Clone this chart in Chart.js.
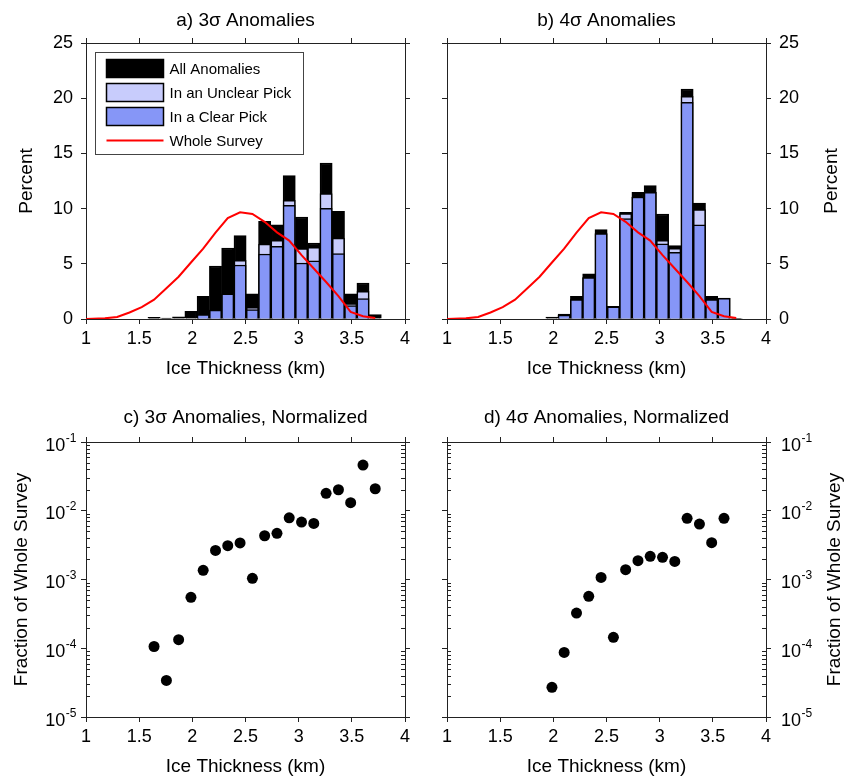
<!DOCTYPE html>
<html><head><meta charset="utf-8">
<script src="https://cdn.jsdelivr.net/npm/chart.js@4.4.1/dist/chart.umd.min.js"></script>
<style>
html,body{margin:0;padding:0;background:#fff;}
#wrap{position:relative;width:844px;height:777px;overflow:hidden;}
canvas{position:absolute;}
</style></head><body>
<div id="wrap">
<canvas id="ca" width="422" height="395" style="left:0;top:0"></canvas>
<canvas id="cb" width="422" height="395" style="left:422px;top:0"></canvas>
<canvas id="cc" width="422" height="382" style="left:0;top:395px"></canvas>
<canvas id="cd" width="422" height="382" style="left:422px;top:395px"></canvas>
</div>
<script>
// ---------------- data ----------------
const binCenters = [1.640, 1.756, 1.871, 1.987, 2.102, 2.218, 2.333, 2.449, 2.565, 2.680, 2.796, 2.911, 3.027, 3.142, 3.258, 3.374, 3.489, 3.605, 3.720];

const all3 = [0.15, 0.08, 0.2, 0.7, 2.05, 4.8, 6.43, 7.55, 2.29, 8.85, 8.54, 12.98, 9.24, 6.88, 14.13, 9.75, 2.29, 3.26, 0.39];
const unclear3 = [null, null, null, null, 0.39, 0.8, 2.29, 5.31, 1.06, 6.79, 7.13, 10.75, 6.37, 6.49, 11.35, 7.34, 1.39, 2.51, null];
const clear3 = [null, null, null, null, 0.39, 0.8, 2.29, 4.89, 0.85, 5.89, 6.58, 10.3, 5.07, 5.28, 10.02, 5.92, 1.21, 1.84, null];

const all4 = [null, null, null, 0.18, 0.45, 2.05, 4.1, 8.1, 1.15, 9.66, 11.47, 12.08, 9.51, 6.64, 20.83, 10.5, 2.05, 1.9, 0.05];
const unclear4 = [null, null, null, null, 0.35, 1.75, 3.75, 7.73, 1.1, 9.54, 11.05, 11.47, 7.13, 6.4, 20.17, 9.9, 1.75, 1.88, null];
const clear4 = [null, null, null, null, 0.35, 1.75, 3.75, 7.73, 1.1, 9.09, 11.05, 11.47, 6.8, 6.04, 19.63, 8.54, 1.75, 1.88, null];

const surveyX = [1.0, 1.062, 1.178, 1.293, 1.409, 1.524, 1.640, 1.756, 1.871, 1.987, 2.102, 2.218, 2.333, 2.449, 2.565, 2.680, 2.796, 2.911, 3.027, 3.142, 3.258, 3.374, 3.489, 3.605, 3.720];
const surveyPct = [0, 0.02, 0.06, 0.18, 0.59, 1.08, 1.75, 2.79, 3.83, 5.12, 6.37, 7.83, 9.15, 9.66, 9.52, 8.8, 7.85, 7.1, 5.78, 4.57, 3.35, 2.07, 0.65, 0.25, 0.1];

const norm3 = [1.06e-4, 3.4e-5, 1.33e-4, 5.5e-4, 1.36e-3, 2.65e-3, 3.1e-3, 3.4e-3, 1.04e-3, 4.33e-3, 4.7e-3, 7.9e-3, 6.85e-3, 6.55e-3, 1.79e-2, 2.02e-2, 1.31e-2, 4.62e-2, 2.09e-2];
const norm4 = [null, null, null, 2.7e-5, 8.7e-5, 3.25e-4, 5.7e-4, 1.07e-3, 1.44e-4, 1.39e-3, 1.88e-3, 2.17e-3, 2.1e-3, 1.83e-3, 7.75e-3, 6.4e-3, 3.43e-3, 7.75e-3, null];

const xTickLabels = ['1', '1.5', '2', '2.5', '3', '3.5', '4'];
const pctTickLabels = ['0', '5', '10', '15', '20', '25'];
const logTickValues = [1e-5, 1e-4, 1e-3, 1e-2, 1e-1];
const logTickExps = ['-5', '-4', '-3', '-2', '-1'];
const logMinorMult = [2, 3, 4, 5, 6, 7, 8, 9];
const legendLabels = ['All Anomalies', 'In an Unclear Pick', 'In a Clear Pick', 'Whole Survey'];
const panelTitles = ['a) 3σ Anomalies', 'b) 4σ Anomalies', 'c) 3σ Anomalies, Normalized', 'd) 4σ Anomalies, Normalized'];
const xTitle = 'Ice Thickness (km)';
const yTitleBars = 'Percent';
const yTitleNorm = 'Fraction of Whole Survey';

// ---------------- styling ----------------
const FONT = '"Liberation Sans", Arial, Helvetica, sans-serif';
const AX = '#222';
const COL_ALL = '#000000', COL_UNC = '#c8ccfc', COL_CLR = '#8696f7', COL_LINE = '#ff0000';
Chart.defaults.font.family = FONT;
Chart.defaults.font.size = 18;
Chart.defaults.color = '#000';
Chart.defaults.animation = false;

const deco = {
  id: 'deco',
  afterDraw(chart, args, o) {
    const ctx = chart.ctx, ca = chart.chartArea;
    ctx.save();
    ctx.fillStyle = '#000';
    ctx.font = '19px ' + FONT;
    ctx.textAlign = 'center';
    ctx.textBaseline = 'alphabetic';
    const cx = (ca.left + ca.right) / 2;
    ctx.fillText(o.title, cx, o.titleY);
    ctx.fillText(o.xTitle, cx, o.xTitleY);
    ctx.save();
    ctx.translate(o.yTitleX, (ca.top + ca.bottom) / 2);
    ctx.rotate(-Math.PI / 2);
    ctx.textBaseline = 'middle';
    ctx.fillText(o.yTitle, 0, 0);
    ctx.restore();

    if (o.logScale) {
      const sc = chart.scales[o.logScale];
      const left = sc.position === 'left';
      ctx.textAlign = 'left';
      ctx.textBaseline = 'alphabetic';
      logTickValues.forEach((v, i) => {
        const y = sc.getPixelForValue(v);
        ctx.font = '18px ' + FONT;
        const w10 = ctx.measureText('10').width;
        ctx.font = '12px ' + FONT;
        const we = ctx.measureText(logTickExps[i]).width;
        const x0 = left ? ca.left - 10 - w10 - we : ca.right + 15;
        ctx.font = '18px ' + FONT;
        ctx.fillText('10', x0, y + 8.5);
        ctx.font = '12px ' + FONT;
        ctx.fillText(logTickExps[i], x0 + w10 + 0.5, y - 0.5);
      });
      ctx.strokeStyle = AX;
      ctx.lineWidth = 1;
      ctx.beginPath();
      for (let d = 0; d < logTickValues.length - 1; d++) {
        logMinorMult.forEach(m => {
          const y = Math.round(sc.getPixelForValue(logTickValues[d] * m)) + 0.5;
          ctx.moveTo(ca.left, y); ctx.lineTo(ca.left + 4, y);
          ctx.moveTo(ca.right, y); ctx.lineTo(ca.right - 4, y);
        });
      }
      ctx.stroke();
    }

    if (o.legend) {
      const bx = Math.round(ca.left + 9) + 0.5, by = Math.round(ca.top + 9) + 0.5, bw = 208, bh = 102;
      ctx.fillStyle = '#fff';
      ctx.fillRect(bx, by, bw, bh);
      ctx.strokeStyle = '#444';
      ctx.lineWidth = 1;
      ctx.strokeRect(bx, by, bw, bh);
      ctx.font = '15px ' + FONT;
      ctx.textAlign = 'left';
      ctx.textBaseline = 'middle';
      chart.data.datasets.forEach((ds, i) => {
        const cy = by + 16 + 24 * i;
        if (ds.type === 'bar') {
          ctx.fillStyle = ds.backgroundColor;
          ctx.fillRect(bx + 11, cy - 9, 57, 18);
          ctx.strokeStyle = '#000';
          ctx.lineWidth = 1.5;
          ctx.strokeRect(bx + 11, cy - 9, 57, 18);
        } else {
          ctx.strokeStyle = ds.borderColor;
          ctx.lineWidth = 2;
          ctx.beginPath();
          ctx.moveTo(bx + 11, cy); ctx.lineTo(bx + 68, cy);
          ctx.stroke();
        }
        ctx.fillStyle = '#000';
        ctx.fillText(ds.label, bx + 74, cy + 1);
      });
    }
    ctx.restore();
  }
};

function frameAxis(extra) {
  return Object.assign({
    offset: false,
    grid: { drawOnChartArea: false, drawTicks: true, tickLength: 5, color: AX, lineWidth: 1, offset: false },
    border: { display: true, color: AX, width: 1 }
  }, extra);
}

function xAxes(bottomH, topH) {
  return {
    x: frameAxis({
      type: 'linear', position: 'bottom', min: 1, max: 4,
      ticks: { stepSize: 0.5, padding: 4, maxRotation: 0, autoSkip: false, callback: (v, i) => xTickLabels[i] },
      afterFit: s => { s.height = bottomH; }
    }),
    x2: frameAxis({
      type: 'linear', axis: 'x', position: 'top', min: 1, max: 4,
      ticks: { stepSize: 0.5, display: false },
      afterFit: s => { s.height = topH; }
    })
  };
}

function pctAxis(pos, w, show) {
  return frameAxis({
    type: 'linear', axis: 'y', position: pos, min: 0, max: 25,
    ticks: { stepSize: 5, padding: 8, display: show, callback: (v, i) => pctTickLabels[i] },
    afterFit: s => { s.width = w; }
  });
}

function logAxis(pos, w) {
  return frameAxis({
    type: 'logarithmic', axis: 'y', position: pos, min: 1e-5, max: 1e-1,
    ticks: { display: false },
    afterBuildTicks: s => { s.ticks = logTickValues.map(v => ({ value: v, major: true })); },
    afterFit: s => { s.width = w; }
  });
}

function barDatasets(all, unc, clr) {
  const common = { type: 'bar', grouped: false, barPercentage: 1, categoryPercentage: 1, borderColor: '#000', borderWidth: 1.5 };
  return [
    Object.assign({ label: legendLabels[0], data: binCenters.map((x, i) => ({ x, y: all[i] })), backgroundColor: COL_ALL, order: 3 }, common),
    Object.assign({ label: legendLabels[1], data: binCenters.map((x, i) => ({ x, y: unc[i] })), backgroundColor: COL_UNC, order: 2 }, common),
    Object.assign({ label: legendLabels[2], data: binCenters.map((x, i) => ({ x, y: clr[i] })), backgroundColor: COL_CLR, order: 1 }, common),
    { type: 'line', label: legendLabels[3], data: surveyX.map((x, i) => ({ x, y: surveyPct[i] })), borderColor: COL_LINE, backgroundColor: COL_LINE, borderWidth: 2, pointRadius: 0, tension: 0, fill: false, order: 0 }
  ];
}

function scatterDataset(vals) {
  return [{ type: 'scatter', label: 'norm', data: binCenters.map((x, i) => ({ x, y: vals[i] })), backgroundColor: '#000', borderWidth: 0, pointRadius: 5.5 }];
}

const baseOpts = (scales, padTop, deco) => ({
  responsive: false, devicePixelRatio: 1, animation: false, events: [],
  layout: { padding: { top: padTop, left: 0, right: 0, bottom: 0 } },
  scales,
  plugins: { legend: { display: false }, tooltip: { enabled: false }, deco }
});

// a) 3 sigma bars
new Chart(document.getElementById('ca'), {
  type: 'bar',
  data: { datasets: barDatasets(all3, unclear3, clear3) },
  options: baseOpts(Object.assign(xAxes(76, 6), { y: pctAxis('left', 86, true), y2: pctAxis('right', 17, false) }), 37,
    { title: panelTitles[0], titleY: 26, xTitle, xTitleY: 374, yTitle: yTitleBars, yTitleX: 27, legend: true }),
  plugins: [deco]
});

// b) 4 sigma bars
new Chart(document.getElementById('cb'), {
  type: 'bar',
  data: { datasets: barDatasets(all4, unclear4, clear4) },
  options: baseOpts(Object.assign(xAxes(76, 6), { y: pctAxis('left', 25, false), y2: pctAxis('right', 78, true) }), 37,
    { title: panelTitles[1], titleY: 26, xTitle, xTitleY: 374, yTitle: yTitleBars, yTitleX: 410, legend: false }),
  plugins: [deco]
});

// c) 3 sigma normalized
new Chart(document.getElementById('cc'), {
  type: 'scatter',
  data: { datasets: scatterDataset(norm3) },
  options: baseOpts(Object.assign(xAxes(60, 6), { y: logAxis('left', 86), y2: logAxis('right', 17) }), 41,
    { title: panelTitles[2], titleY: 28, xTitle, xTitleY: 377, yTitle: yTitleNorm, yTitleX: 22, logScale: 'y' }),
  plugins: [deco]
});

// d) 4 sigma normalized
new Chart(document.getElementById('cd'), {
  type: 'scatter',
  data: { datasets: scatterDataset(norm4) },
  options: baseOpts(Object.assign(xAxes(60, 6), { y: logAxis('left', 25), y2: logAxis('right', 78) }), 41,
    { title: panelTitles[3], titleY: 28, xTitle, xTitleY: 377, yTitle: yTitleNorm, yTitleX: 413, logScale: 'y2' }),
  plugins: [deco]
});
</script>
</body></html>
